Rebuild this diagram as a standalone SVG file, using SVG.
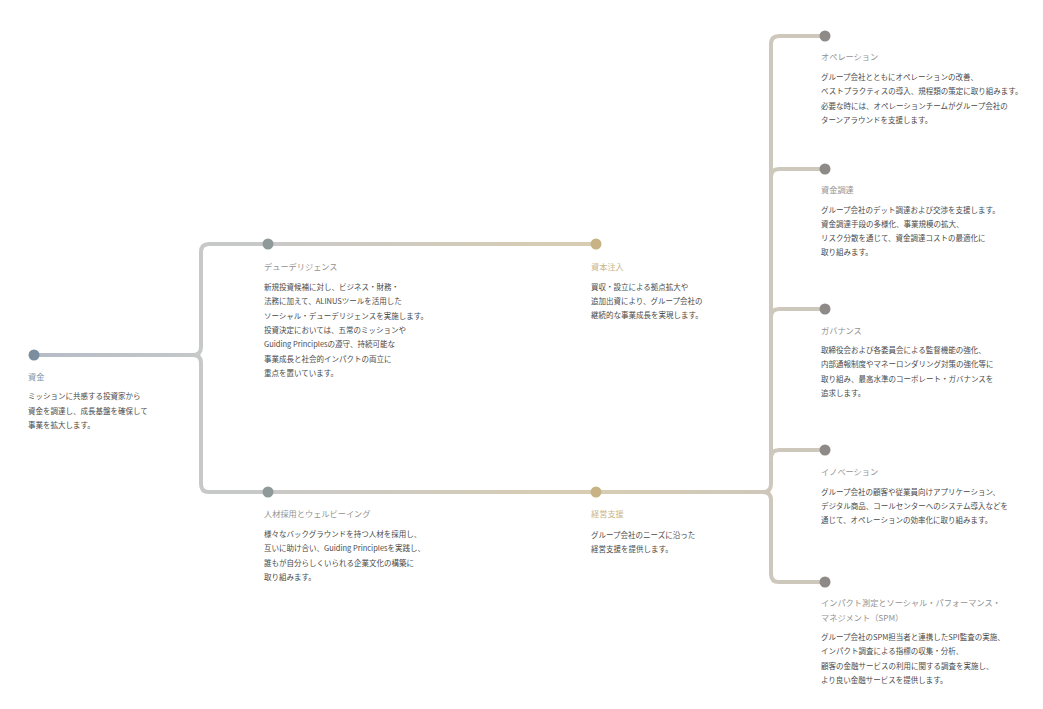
<svg xmlns="http://www.w3.org/2000/svg" width="1043" height="709" viewBox="0 0 1043 709">
<style>
text{font-family:"Noto Sans CJK JP","Noto Sans",sans-serif}
.t{font-size:8.2px;fill:#939393}
.tb{font-size:8.2px;fill:#8295a6}
.tg{font-size:8.2px;fill:#c9b58b}
.d{font-size:7.5px;fill:#4a4a4a}
.ln{fill:none;stroke-width:4;stroke-linecap:butt}
</style>
<defs>
<linearGradient id="gA" gradientUnits="userSpaceOnUse" x1="34" y1="0" x2="201" y2="0"><stop offset="0" stop-color="#b4bcc6"/><stop offset="1" stop-color="#c6c8c9"/></linearGradient>
<linearGradient id="gD" gradientUnits="userSpaceOnUse" x1="268" y1="0" x2="596" y2="0"><stop offset="0" stop-color="#c9c9c8"/><stop offset="1" stop-color="#d8cdb2"/></linearGradient>
<linearGradient id="gF" gradientUnits="userSpaceOnUse" x1="596" y1="0" x2="771" y2="0"><stop offset="0" stop-color="#d7cdb4"/><stop offset="1" stop-color="#cec7bb"/></linearGradient>
</defs>
<g id="connectors">
<path class="ln" stroke="url(#gA)" d="M34,355 H193"/>
<path class="ln" stroke="#c7c9c9" d="M193,355 Q201,355 201,347 V252 Q201,244 209,244 H268"/>
<path class="ln" stroke="#c7c9c9" d="M193,355 Q201,355 201,363 V484 Q201,492 209,492 H268"/>
<path class="ln" stroke="url(#gD)" d="M268,244 H596"/>
<path class="ln" stroke="url(#gD)" d="M268,492 H596"/>
<path class="ln" stroke="url(#gF)" d="M596,492 H763"/>
<path class="ln" stroke="#cec7bc" d="M763,492 Q771,492 771,484 V44 Q771,36 779,36 H825"/>
<path class="ln" stroke="#cec7bc" d="M763,492 Q771,492 771,500 V574 Q771,582 779,582 H825"/>
<path class="ln" stroke="#cec7bc" d="M771,177 Q771,169 779,169 H825"/>
<path class="ln" stroke="#cec7bc" d="M771,317 Q771,309 779,309 H825"/>
<path class="ln" stroke="#cec7bc" d="M771,458 Q771,450 779,450 H825"/>
</g>
<g id="node-shikin">
<circle cx="34" cy="355" r="5.5" fill="#7a8e9e"/>
<text class="tb" x="28" y="380">資金</text>
<text class="d" x="28" y="399">ミッションに共感する投資家から</text>
<text class="d" x="28" y="413.5">資金を調達し、成長基盤を確保して</text>
<text class="d" x="28" y="428">事業を拡大します。</text>
</g>
<g id="node-dd">
<circle cx="268" cy="244" r="5.5" fill="#8f9999"/>
<text class="t" x="264" y="269.5">デューデリジェンス</text>
<text class="d" x="264" y="290">新規投資候補に対し、ビジネス・財務・</text>
<text class="d" x="264" y="304.3">法務に加えて、ALINUSツールを活用した</text>
<text class="d" x="264" y="318.6">ソーシャル・デューデリジェンスを実施します。</text>
<text class="d" x="264" y="332.9">投資決定においては、五常のミッションや</text>
<text class="d" x="264" y="347.2">Guiding Principlesの遵守、持続可能な</text>
<text class="d" x="264" y="361.5">事業成長と社会的インパクトの両立に</text>
<text class="d" x="264" y="375.8">重点を置いています。</text>
</g>
<g id="node-capital">
<circle cx="596" cy="244" r="5.5" fill="#c8b386"/>
<text class="tg" x="591" y="269.5">資本注入</text>
<text class="d" x="591" y="289.5">買収・設立による拠点拡大や</text>
<text class="d" x="591" y="303.8">追加出資により、グループ会社の</text>
<text class="d" x="591" y="318.1">継続的な事業成長を実現します。</text>
</g>
<g id="node-hr">
<circle cx="268" cy="492" r="5.5" fill="#8f9999"/>
<text class="t" x="264" y="516.5">人材採用とウェルビーイング</text>
<text class="d" x="264" y="536.5">様々なバックグラウンドを持つ人材を採用し、</text>
<text class="d" x="264" y="551">互いに助け合い、Guiding Principlesを実践し、</text>
<text class="d" x="264" y="565.5">誰もが自分らしくいられる企業文化の構築に</text>
<text class="d" x="264" y="580">取り組みます。</text>
</g>
<g id="node-support">
<circle cx="596" cy="492" r="5.5" fill="#c8b386"/>
<text class="tg" x="591" y="517">経営支援</text>
<text class="d" x="591" y="538">グループ会社のニーズに沿った</text>
<text class="d" x="591" y="552">経営支援を提供します。</text>
</g>
<g id="node-operation">
<circle cx="825" cy="36" r="5.5" fill="#8e8a87"/>
<text class="t" x="821" y="60">オペレーション</text>
<text class="d" x="821" y="80">グループ会社とともにオペレーションの改善、</text>
<text class="d" x="821" y="94.3">ベストプラクティスの導入、規程類の策定に取り組みます。</text>
<text class="d" x="821" y="108.6">必要な時には、オペレーションチームがグループ会社の</text>
<text class="d" x="821" y="122.9">ターンアラウンドを支援します。</text>
</g>
<g id="node-finance">
<circle cx="825" cy="169" r="5.5" fill="#8e8a87"/>
<text class="t" x="821" y="193">資金調達</text>
<text class="d" x="821" y="212.5">グループ会社のデット調達および交渉を支援します。</text>
<text class="d" x="821" y="226.8">資金調達手段の多様化、事業規模の拡大、</text>
<text class="d" x="821" y="241.1">リスク分散を通じて、資金調達コストの最適化に</text>
<text class="d" x="821" y="255.4">取り組みます。</text>
</g>
<g id="node-governance">
<circle cx="825" cy="309" r="5.5" fill="#8e8a87"/>
<text class="t" x="821" y="334">ガバナンス</text>
<text class="d" x="821" y="353">取締役会および各委員会による監督機能の強化、</text>
<text class="d" x="821" y="367.3">内部通報制度やマネーロンダリング対策の強化等に</text>
<text class="d" x="821" y="381.6">取り組み、最高水準のコーポレート・ガバナンスを</text>
<text class="d" x="821" y="395.9">追求します。</text>
</g>
<g id="node-innovation">
<circle cx="825" cy="450" r="5.5" fill="#8e8a87"/>
<text class="t" x="821" y="475">イノベーション</text>
<text class="d" x="821" y="494.5">グループ会社の顧客や従業員向けアプリケーション、</text>
<text class="d" x="821" y="508.8">デジタル商品、コールセンターへのシステム導入などを</text>
<text class="d" x="821" y="523.1">通じて、オペレーションの効率化に取り組みます。</text>
</g>
<g id="node-spm">
<circle cx="825" cy="582" r="5.5" fill="#8e8a87"/>
<text class="t" x="821" y="606">インパクト測定とソーシャル・パフォーマンス・</text>
<text class="t" x="821" y="621">マネジメント（SPM）</text>
<text class="d" x="821" y="640">グループ会社のSPM担当者と連携したSPI監査の実施、</text>
<text class="d" x="821" y="654.3">インパクト調査による指標の収集・分析、</text>
<text class="d" x="821" y="668.6">顧客の金融サービスの利用に関する調査を実施し、</text>
<text class="d" x="821" y="682.9">より良い金融サービスを提供します。</text>
</g>
</svg>
